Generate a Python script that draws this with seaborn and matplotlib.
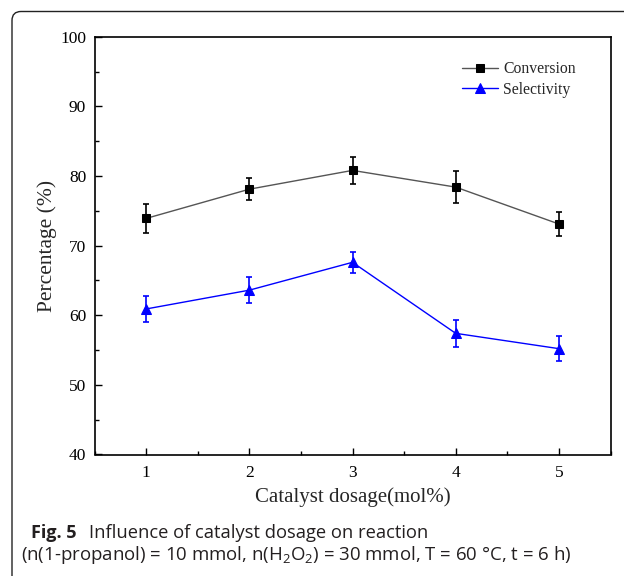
import matplotlib
matplotlib.use("Agg")
import matplotlib.pyplot as plt
from matplotlib.patches import FancyBboxPatch
from matplotlib.transforms import IdentityTransform
from matplotlib.ticker import MultipleLocator
import seaborn as sns
import pandas as pd

# ---- data ----
dosage = [1, 2, 3, 4, 5]
conversion = [73.9, 78.1, 80.8, 78.4, 73.1]
conversion_err = [2.1, 1.6, 1.9, 2.3, 1.7]
selectivity = [60.9, 63.6, 67.6, 57.4, 55.2]
selectivity_err = [1.8, 1.85, 1.5, 1.9, 1.75]
series_names = ["Conversion", "Selectivity"]
x_label = "Catalyst dosage(mol%)"
y_label = "Percentage (%)"
caption_bold = "Fig. 5"
caption_line1 = "Influence of catalyst dosage on reaction"
caption_line2 = (r"(n(1-propanol) = 10 mmol, n(H$_{\mathrm{2}}$O$_{\mathrm{2}}$) = 30 mmol, "
                 r"T = 60 °C, t = 6 h)")

sns.set_style("white")
plt.rcParams["font.family"] = ["Liberation Serif", "DejaVu Serif"]
plt.rcParams["mathtext.fontset"] = "custom"
plt.rcParams["mathtext.rm"] = "Open Sans"
plt.rcParams["mathtext.it"] = "Open Sans:italic"

fig = plt.figure(figsize=(6.24, 5.76), dpi=100)
ax = fig.add_axes([94.5 / 624, 1 - 454.5 / 576, (610.5 - 94.5) / 624, (454.5 - 36.7) / 576])

df = pd.DataFrame({
    "dosage": dosage * 2,
    "value": conversion + selectivity,
    "series": [series_names[0]] * 5 + [series_names[1]] * 5,
})

sns.lineplot(data=df[df.series == series_names[0]], x="dosage", y="value", ax=ax,
             color="#555555", lw=1.0, marker="s", markersize=6,
             markerfacecolor="black", markeredgecolor="black", label=series_names[0])
sns.lineplot(data=df[df.series == series_names[1]], x="dosage", y="value", ax=ax,
             color="#0000ff", lw=1.0, marker="^", markersize=7.5,
             markerfacecolor="#0000ff", markeredgecolor="#0000ff", label=series_names[1])

ax.errorbar(dosage, conversion, yerr=conversion_err, fmt="none", ecolor="black",
            elinewidth=1.2, capsize=2, capthick=1.2)
ax.errorbar(dosage, selectivity, yerr=selectivity_err, fmt="none", ecolor="#0000ff",
            elinewidth=1.2, capsize=2, capthick=1.2)

ax.set_xlim(0.5, 5.5)
ax.set_ylim(40, 100)
ax.xaxis.set_major_locator(MultipleLocator(1))
ax.xaxis.set_minor_locator(MultipleLocator(0.5))
ax.yaxis.set_major_locator(MultipleLocator(10))
ax.yaxis.set_minor_locator(MultipleLocator(5))
ax.tick_params(which="both", direction="in", top=False, right=False,
               bottom=True, left=True, colors="black", labelsize=12.5)
ax.tick_params(which="major", length=5, width=1.0)
ax.tick_params(which="minor", length=3, width=1.0)
ax.tick_params(axis="x", pad=7.5)
ax.tick_params(axis="y", pad=6)
for s in ax.spines.values():
    s.set_linewidth(1.2)
    s.set_color("black")

ax.set_xlabel(x_label, fontsize=15, labelpad=4.5)
ax.set_ylabel(y_label, fontsize=15.5, labelpad=2.5)

leg = ax.legend(loc="upper right", bbox_to_anchor=(0.96, 0.975), frameon=False,
                fontsize=11.3, handlelength=2.3, handletextpad=0.3, labelspacing=0.3)

# rounded frame
box = FancyBboxPatch((12, -30), 700, 576 - 11.5 + 30, boxstyle="round,pad=0,rounding_size=9",
                     transform=IdentityTransform(), fill=False, edgecolor="#222222", lw=1.0)
fig.add_artist(box)

cap_family = ["Open Sans", "DejaVu Sans"]
fig.text(31 / 624, 1 - 533 / 576, caption_bold, fontsize=13, fontweight="bold",
         family=cap_family, va="center", ha="left", color="#231f20")
fig.text(89 / 624, 1 - 533 / 576, caption_line1, fontsize=13.2,
         family=cap_family, va="center", ha="left", color="#231f20")
fig.text(21 / 624, 1 - 555 / 576, caption_line2, fontsize=13.4,
         family=cap_family, va="center", ha="left", color="#231f20")

fig.savefig("out.png", dpi=100)
